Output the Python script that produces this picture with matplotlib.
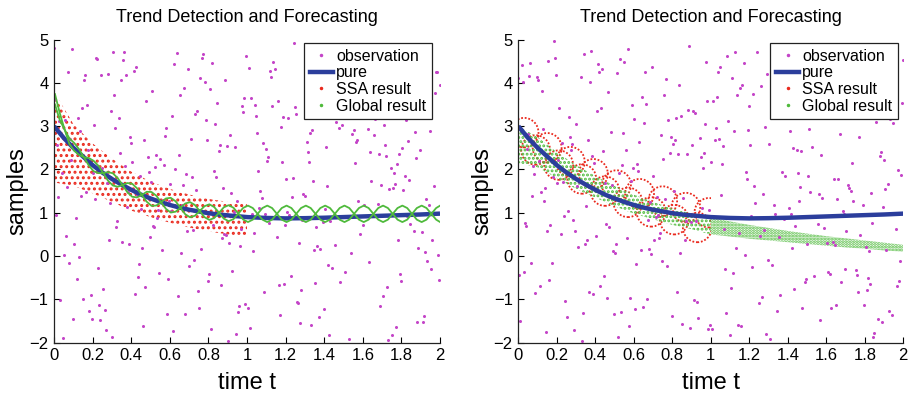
import numpy as np
import matplotlib.pyplot as plt
from matplotlib.lines import Line2D
from matplotlib.patches import Ellipse, Rectangle

plt.rcParams['font.family'] = ['Liberation Sans', 'DejaVu Sans']
plt.rcParams['hatch.linewidth'] = 1.4

# ---- data ----
# pure trend (same in both panels)
pure_t = [0, 0.05, 0.1, 0.15, 0.2, 0.25, 0.3, 0.35, 0.4, 0.45, 0.5, 0.55, 0.6, 0.65,
          0.7, 0.75, 0.8, 0.85, 0.9, 0.95, 1.0, 1.1, 1.2, 1.3, 1.4, 1.5, 1.6, 1.7,
          1.8, 1.9, 2.0]
pure_y = [3.0, 2.73, 2.5, 2.3, 2.1, 1.93, 1.78, 1.65, 1.53, 1.42, 1.33, 1.25, 1.18, 1.12,
          1.07, 1.03, 0.99, 0.96, 0.94, 0.92, 0.9, 0.88, 0.87, 0.875, 0.885, 0.9, 0.915,
          0.93, 0.945, 0.96, 0.98]

# observations, left panel (estimated values)
obs_left = [
    4.81, 3.36, -0.52, 4.07, 2.18, 2.95, -1.64, 0.47, 4.52, 3.71,
    1.28, 4.93, 0.06, 2.66, 3.19, -0.88, 1.83, 4.34, 3.92, 0.71,
    2.44, -1.27, 3.58, 4.66, 1.51, 0.23, 2.79, -0.31, 4.18, 1.06,
    3.04, 3.47, -1.82, 2.31, 0.95, 4.71, 1.67, 2.53, -0.64, 3.83,
    0.38, 4.26, 2.07, 1.19, -1.15, 3.29, 4.59, 0.74, 2.88, 1.42,
    -0.09, 3.66, 2.41, 4.87, 0.56, -1.46, 1.94, 3.13, 2.62, 0.17,
    4.38, 1.61, -0.77, 2.23, 3.54, 0.89, 4.02, -1.93, 1.37, 2.96,
    3.24, 0.31, 1.78, 4.49, -0.42, 2.71, 1.14, 3.87, 0.62, -1.08,
    2.14, 4.13, 3.41, -0.19, 1.53, 0.12, 2.84, 4.61, -1.38, 3.02,
    1.72, -0.58, 0.98, 3.77, 2.36, 4.24, -1.71, 1.29, 2.57, 0.44,
    3.61, 2.03, -1.02, 0.81, 4.44, 1.46, 3.18, -0.36, 2.49, 4.79,
    0.27, 1.89, 3.33, -1.55, 2.68, 0.58, 4.06, 1.08, -0.81, 3.49,
    2.92, -0.14, 1.31, 4.57, 0.69, 3.86, 2.19, -1.23, 1.64, 0.03,
    4.21, 2.77, 0.41, -0.67, 3.09, 1.57, -1.89, 2.38, 4.68, 1.01,
    -0.46, 3.42, 1.86, 0.28, 2.61, 4.32, -1.11, 0.84, 3.72, 2.26,
    1.49, -1.61, 4.11, 2.84, 0.13, 1.73, 3.27, -0.28, 2.06, 4.46,
    0.77, 2.52, -0.93, 3.94, 1.22, -1.34, 0.51, 2.99, 4.83, 1.66,
    3.15, 0.33, 2.33, -1.79, 1.81, 3.56, 0.92, -0.53, 4.27, 2.71,
    -1.19, 1.38, 3.81, 0.19, 2.46, -0.72, 4.58, 1.12, 0.66, 3.37,
    2.89, -1.47, 0.87, 1.96, 4.14, -0.21, 2.57, 3.63, -1.86, 1.27,
    0.48, 3.21, -0.61, 2.13, 1.59, 4.72, 0.07, -1.28, 3.44, 2.81,
    1.76, -0.03, 4.36, 0.61, -1.67, 2.64, 1.17, 3.91, -0.89, 2.29,
    4.03, 1.33, -1.41, 3.16, 0.36, 2.04, -0.38, 1.83, 4.49, 0.82,
    -0.71, 2.56, 3.71, 1.04, -1.96, 0.72, 3.02, 2.36, -0.16, 4.19,
    1.63, 0.24, -1.07, 2.91, 4.61, 1.39, -0.49, 3.28, 0.97, 2.17,
    3.53, -1.52, 1.91, 0.45, 2.69, -0.84, 4.09, 1.21, 3.77, -1.24,
    0.14, 2.43, 4.31, -0.27, 1.54, 3.11, 0.68, -1.74, 2.79, 1.02,
    4.66, -0.57, 2.21, 1.47, -1.33, 3.46, 0.31, 2.63, 4.02, -0.99,
    1.86, 3.34, 0.54, -1.59, 2.94, 0.09, 1.31, 3.82, -0.41, 2.47,
    0.79, -1.16, 4.24, 1.68, 2.11, -0.66, 3.57, 0.26, -1.83, 1.92,
    3.19, 2.02, -0.34, 0.94, 4.41, 1.52, -1.45, 2.74, 0.57, 3.66,
    -0.79, 1.26, 2.87, 4.17, 0.18, -1.21, 3.23, 1.74, 2.41, -0.12,
    4.54, 0.66, -1.69, 2.28, 1.09, 3.38, -0.55, 0.38, 2.96, 1.58,
    -1.37, 3.71, 1.91, 0.03, 4.06, -0.93, 2.52, 1.36, -1.91, 3.14,
    0.88, 2.18, -0.24, 4.62, 1.44, 0.51, -1.53, 3.49, 2.67, 0.16,
    1.97, -0.63, 3.86, 1.18, -1.12, 2.33, 0.72, 4.28, 1.61, 3.03]

# observations, right panel (estimated values)
obs_right = [
    4.12, 0.57, 3.48, 4.86, 1.93, -1.21, 2.74, 4.45, 0.36, 3.07,
    2.29, 4.71, -0.47, 1.46, 3.82, 4.26, 0.91, -1.68, 2.58, 3.63,
    1.14, 4.97, 2.86, -0.22, 0.63, 3.29, 1.77, 4.38, -1.04, 2.11,
    3.94, 0.18, 2.49, 4.56, -1.49, 1.62, 3.17, 0.79, 2.92, -0.61,
    4.31, 1.38, -0.83, 3.52, 2.04, 0.47, 4.63, -1.87, 1.26, 3.41,
    0.94, 2.67, 3.86, -0.36, 1.55, 4.19, 0.12, 2.38, -1.32, 3.74,
    2.81, -0.69, 1.03, 4.48, 3.23, -1.58, 0.69, 2.14, 4.02, 1.71,
    -0.18, 3.36, 2.57, 0.29, -1.13, 1.89, 4.74, 0.84, 3.06, -0.94,
    1.43, 4.08, -1.76, 2.43, 0.53, 3.67, 1.18, -0.42, 4.41, 2.22,
    0.07, -1.39, 3.12, 1.84, 4.29, -0.58, 2.76, 0.41, 1.33, 3.89,
    2.46, 4.66, 0.76, -1.95, 1.97, 3.31, -0.26, 2.93, 0.22, 4.13,
    -0.87, 1.24, 3.58, 0.61, 2.34, -1.46, 4.51, 1.69, -0.11, 2.71,
    3.81, 0.33, -1.27, 2.06, 4.23, 1.51, -0.73, 3.44, 0.98, 1.87,
    2.59, -1.62, 0.82, 3.96, 1.28, -0.32, 2.48, 4.67, 0.14, -1.05,
    1.61, 3.27, -0.51, 2.19, 0.46, 4.36, 1.06, -1.81, 3.59, 2.31,
    0.71, -0.97, 3.73, 1.41, 4.04, 0.26, -1.35, 2.62, 1.92, 3.18,
    -0.39, 2.88, 0.58, 4.52, -1.71, 1.73, 3.38, 0.03, 2.42, -0.82,
    4.16, 1.16, -1.17, 2.73, 0.88, 3.62, -0.64, 1.49, 4.44, 0.37,
    2.17, -0.08, 3.26, -1.52, 1.82, 0.67, 4.09, 2.54, -0.91, 1.31,
    3.49, 0.93, -1.29, 2.36, 4.71, 0.18, 1.58, -0.44, 3.04, 2.03,
    -1.66, 1.78, 3.81, 0.49, -0.16, 2.67, 4.26, 1.11, -1.09, 3.33,
    0.76, 2.94, -0.68, 1.36, 3.57, -1.91, 0.31, 2.21, 4.58, 1.63,
    3.13, -0.29, 1.94, 4.17, 0.62, -1.41, 2.83, 0.08, 3.71, -0.76,
    1.51, 4.42, 0.21, -1.23, 2.56, 3.47, -0.53, 1.19, 2.09, 4.01,
    -0.98, 2.38, 3.92, 0.74, -1.78, 1.57, 4.31, 0.42, 2.96, -0.21,
    3.36, 0.13, 1.68, -1.34, 2.74, 4.63, 0.86, -0.61, 1.99, 3.21,
    2.46, -1.57, 0.54, 3.83, 1.27, -0.37, 4.14, 2.12, -1.02, 0.93,
    1.84, 3.51, -0.86, 2.31, 0.16, 4.49, 1.43, -1.48, 3.09, 0.59,
    -0.47, 2.79, 4.24, 0.96, -1.19, 1.66, 3.42, 0.27, 2.58, -1.83,
    3.97, 1.05, -0.12, 2.44, 4.77, 0.38, -1.61, 1.92, 3.28, 0.69,
    -1.31, 2.63, 0.81, 3.74, 1.47, -0.79, 4.06, 2.16, 0.04, -1.69,
    2.97, 1.34, 3.61, -0.56, 0.73, 2.24, 4.37, -1.26, 1.79, 3.16,
    0.52, -1.87, 2.69, 4.11, 1.12, -0.31, 3.53, 0.83, -0.97, 2.36,
    4.46, 1.59, -0.43, 2.81, 0.29, 3.67, -1.42, 1.23, 2.52, 0.11,
    -0.68, 3.34, 1.86, -1.58, 4.21, 0.64, 2.41, -0.17, 3.79, 1.32,
    2.13, 0.44, -1.14, 3.08, 1.71, 4.56, -0.82, 2.89, 0.97, 1.64]

# the listed values are spread over a uniform time grid in stride-53 order
OBS_STRIDE = 53

# left SSA result: band of red dots (lower / upper edge)
ssa_l_t = [0, 0.1, 0.2, 0.3, 0.4, 0.5, 0.6, 0.7, 0.8, 0.9, 1.0]
ssa_l_lo = [1.7, 1.62, 1.45, 1.25, 1.05, 0.9, 0.77, 0.66, 0.57, 0.5, 0.45]
ssa_l_hi = [3.8, 3.05, 2.6, 2.25, 1.95, 1.72, 1.55, 1.42, 1.32, 1.25, 1.2]

# left Global result: two crossing curves = centre +/- spread
glob_l_t = list(np.arange(0.005, 1.99, 0.025)) + [2.0]
glob_l_c = [3.62, 3.22, 2.92, 2.65, 2.52, 2.40, 2.28, 2.18, 2.08, 2.00, 1.915, 1.84,
            1.77, 1.70, 1.64, 1.58, 1.52, 1.46, 1.41, 1.37, 1.32, 1.28, 1.245, 1.21,
            1.175, 1.145, 1.115, 1.09, 1.07, 1.055, 1.04, 1.025, 1.015, 1.005, 1.0,
            0.995, 0.99, 0.985, 0.98, 0.978] + [0.975] * 41
glob_l_w = ([0.12, 0.08,
             0, -.064, -.09, -.064,
             0, .085, .12, .085,
             0, -.10, -.14, -.10,
             0, .106, .15, .106,
             0, -.113, -.16, -.113,
             0, .12, .17, .12,
             0, -.124, -.175, -.124,
             0, .127, .18, .127,
             0, -.131, -.185, -.131]
            + [0, .134, .19, .134, 0, -.134, -.19, -.134] * 5
            + [0, .134, .188])

# right SSA result: two rows of dotted circles (centres)
ssa_r_up_t = [0.03, 0.15, 0.27, 0.39, 0.51, 0.63, 0.75, 0.87, 0.99]
ssa_r_up_y = [2.85, 2.5, 2.18, 1.9, 1.64, 1.44, 1.27, 1.12, 1.0]
ssa_r_dn_t = [0.09, 0.21, 0.33, 0.45, 0.57, 0.69, 0.81, 0.93]
ssa_r_dn_y = [2.45, 2.1, 1.78, 1.5, 1.24, 1.02, 0.84, 0.66]

# right Global result: band of green dots
glob_r_t = [0, 0.1, 0.2, 0.3, 0.4, 0.5, 0.6, 0.7, 0.8, 0.9, 1.0,
            1.1, 1.2, 1.3, 1.4, 1.5, 1.6, 1.7, 1.8, 1.9, 2.0]
glob_r_lo = [2.15, 2.05, 1.8, 1.55, 1.35, 1.15, 0.98, 0.85, 0.72, 0.62, 0.5,
             0.45, 0.4, 0.36, 0.32, 0.28, 0.24, 0.2, 0.17, 0.13, 0.1]
glob_r_hi = [3.0, 2.75, 2.4, 2.1, 1.85, 1.62, 1.42, 1.25, 1.1, 0.98, 0.9,
             0.8, 0.72, 0.65, 0.58, 0.52, 0.46, 0.41, 0.36, 0.31, 0.26]

C_OBS = '#c444c8'
C_PURE = '#2b3e9c'
C_RED = '#ea2a1e'
C_GREEN = '#4fba3c'


def obs_times(n):
    grid = np.linspace(0, 2, n)
    return grid[(np.arange(n) * OBS_STRIDE) % n]


def style(ax):
    ax.set_xlim(0, 2)
    ax.set_ylim(-2, 5)
    ax.set_xticks(np.arange(0, 2.01, 0.2))
    ax.set_xticklabels(['0', '0.2', '0.4', '0.6', '0.8', '1', '1.2', '1.4', '1.6', '1.8', '2'])
    ax.set_yticks(range(-2, 6))
    for s in ['top', 'right']:
        ax.spines[s].set_visible(False)
    for s in ['left', 'bottom']:
        ax.spines[s].set_linewidth(0.9)
        ax.spines[s].set_color('#222222')
    ax.tick_params(direction='in', length=4, width=0.8, labelsize=12, pad=4)
    ax.set_title('Trend Detection and Forecasting', fontsize=13, pad=12.8)
    ax.set_xlabel('time t', fontsize=17)
    ax.set_ylabel('samples', fontsize=17)
    ax.xaxis.set_label_coords(0.5, -0.097)
    ax.yaxis.set_label_coords(-0.066, 0.5)


def add_legend(ax, anchor):
    handles = [Line2D([], [], ls='none', marker='.', ms=3, color=C_OBS),
               Line2D([], [], color=C_PURE, lw=3.2),
               Line2D([], [], ls='none', marker='.', ms=3, color=C_RED),
               Line2D([], [], ls='none', marker='.', ms=3, color=C_GREEN)]
    leg = ax.legend(handles, ['observation', 'pure', 'SSA result', 'Global result'],
                    loc='upper right', bbox_to_anchor=anchor, borderaxespad=0,
                    fontsize=11.5, fancybox=False, framealpha=1, edgecolor='#222222',
                    handlelength=1.46, handletextpad=0.2, borderpad=0.36,
                    labelspacing=0.1)
    leg.get_frame().set_linewidth(0.9)


fig = plt.figure(figsize=(9.13, 3.98), dpi=100)
axL = fig.add_axes([54 / 913, 1 - 342.7 / 398, 386 / 913, 303.2 / 398])
axR = fig.add_axes([518.3 / 913, 1 - 342.7 / 398, 385 / 913, 303.2 / 398])

# ---- left panel ----
axL.plot(obs_times(len(obs_left)), obs_left, ls='none', marker='o', ms=2.2,
         mew=0, color=C_OBS)
axL.plot(pure_t, pure_y, color=C_PURE, lw=3.2, solid_capstyle='butt')
axL.fill_between(ssa_l_t, ssa_l_lo, ssa_l_hi, facecolor='none', edgecolor=C_RED,
                 hatch='...', linewidth=0)
gc = np.array(glob_l_c)
gw = np.array(glob_l_w)
axL.plot(glob_l_t, gc + gw, color=C_GREEN, lw=1.3)
axL.plot(glob_l_t, gc - gw, color=C_GREEN, lw=1.3)
style(axL)
add_legend(axL, (0.979, 0.988))

# ---- right panel ----
axR.plot(obs_times(len(obs_right)), obs_right, ls='none', marker='o', ms=2.2,
         mew=0, color=C_OBS)
axR.plot(pure_t, pure_y, color=C_PURE, lw=3.2, solid_capstyle='butt')
clip = Rectangle((0, -2), 1.0, 7, transform=axR.transData)
for ts, ys in [(ssa_r_up_t, ssa_r_up_y), (ssa_r_dn_t, ssa_r_dn_y)]:
    for t0, y0 in zip(ts, ys):
        e = Ellipse((t0, y0), 0.15, 0.68, fill=False, edgecolor=C_RED, lw=1.3,
                    ls=(0, (1, 1)))
        axR.add_patch(e)
        e.set_clip_path(clip)
axR.fill_between(glob_r_t[:11], glob_r_lo[:11], glob_r_hi[:11], facecolor='none',
                 edgecolor=C_GREEN, hatch='....', linewidth=0)
axR.fill_between(glob_r_t[10:], glob_r_lo[10:], glob_r_hi[10:], facecolor='none',
                 edgecolor=C_GREEN, hatch='......', linewidth=0)
style(axR)
add_legend(axR, (0.987, 0.988))

fig.savefig('out.png', dpi=100)
